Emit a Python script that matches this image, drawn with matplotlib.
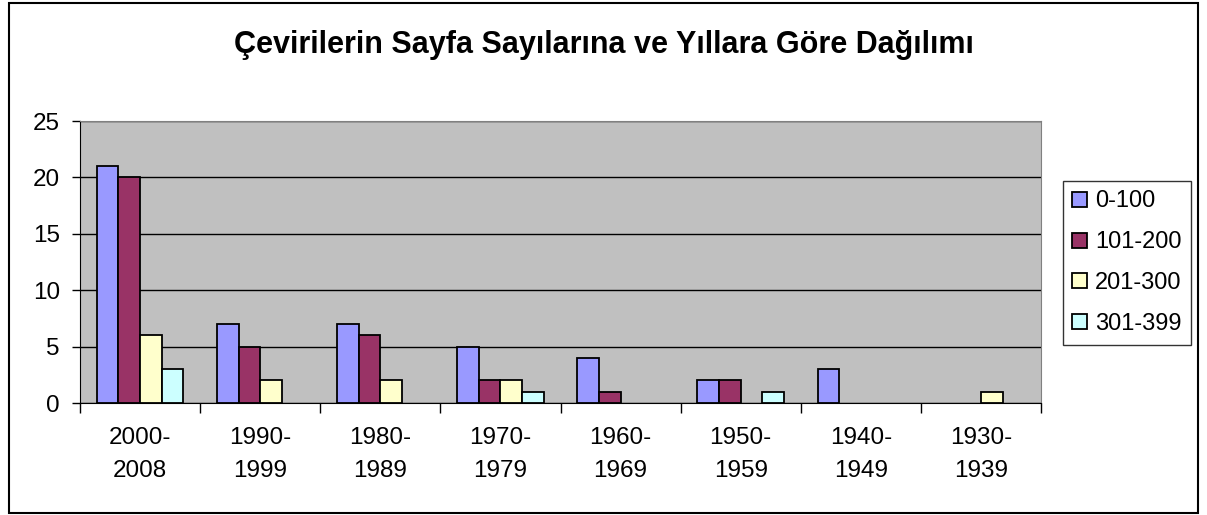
import numpy as np
import matplotlib.pyplot as plt
from matplotlib.patches import Rectangle

plt.rcParams['font.family'] = ['Liberation Sans', 'DejaVu Sans']

# data
periods = ['2000-\n2008', '1990-\n1999', '1980-\n1989', '1970-\n1979',
           '1960-\n1969', '1950-\n1959', '1940-\n1949', '1930-\n1939']
series_names = ['0-100', '101-200', '201-300', '301-399']
pages_0_100 = [21, 7, 7, 5, 4, 2, 3, 0]
pages_101_200 = [20, 5, 6, 2, 1, 2, 0, 0]
pages_201_300 = [6, 2, 2, 2, 0, 0, 0, 1]
pages_301_399 = [3, 0, 0, 1, 0, 1, 0, 0]
colors = ['#9999FF', '#993366', '#FFFFCC', '#CCFFFF']

W, H = 1207, 515
fig = plt.figure(figsize=(W / 100, H / 100), dpi=100)
fig.patches.append(Rectangle((9 / W, 2 / H), 1189 / W, 510 / H, transform=fig.transFigure,
                             fill=False, edgecolor='black', linewidth=1.5))

ax = fig.add_axes([80 / W, (H - 403) / H, 961 / W, 282 / H])
ax.set_facecolor('#C0C0C0')

x = np.arange(len(periods))
width = 0.18
all_series = [pages_0_100, pages_101_200, pages_201_300, pages_301_399]
handles = []
for i, (vals, name, col) in enumerate(zip(all_series, series_names, colors)):
    vals = np.array(vals)
    keep = vals > 0
    b = ax.bar(x[keep] + (i - 1.5) * width, vals[keep], width, color=col,
               edgecolor='black', linewidth=1.3, label=name, zorder=3)
    handles.append(b)

ax.set_xlim(-0.5, len(periods) - 0.5)
ax.set_ylim(0, 25)
ax.set_yticks(range(0, 26, 5))
ax.yaxis.grid(True, color='black', linewidth=1, zorder=1)
ax.set_axisbelow(True)

ax.set_xticks(np.arange(len(periods) + 1) - 0.5, minor=False)
ax.set_xticklabels([])
ax.set_xticks(x, minor=True)
ax.set_xticklabels(periods, minor=True, fontsize=17.5, linespacing=1.65)
ax.tick_params(axis='x', which='major', length=7, width=1, direction='out')
ax.tick_params(axis='x', which='minor', length=0, pad=17.5)
ax.tick_params(axis='y', length=6, width=1, direction='out', labelsize=17.5, pad=8.5)

for s in ['top', 'right']:
    ax.spines[s].set_color('#808080')
for s in ['left', 'bottom']:
    ax.spines[s].set_color('black')

fig.text(604 / W, 1 - 45 / H, 'Çevirilerin Sayfa Sayılarına ve Yıllara Göre Dağılımı',
         ha='center', va='center', fontsize=22, fontweight='bold')

leg = fig.legend(handles=handles, labels=series_names, loc='upper left',
                 bbox_to_anchor=(1063 / W, 1 - 181 / H), fontsize=17,
                 handlelength=0.6, handleheight=0.6, handletextpad=0.36,
                 labelspacing=0.8, borderpad=0.4, borderaxespad=0, frameon=True,
                 fancybox=False, edgecolor='black')
leg.get_frame().set_linewidth(1)

fig.savefig('out.png', dpi=100)
